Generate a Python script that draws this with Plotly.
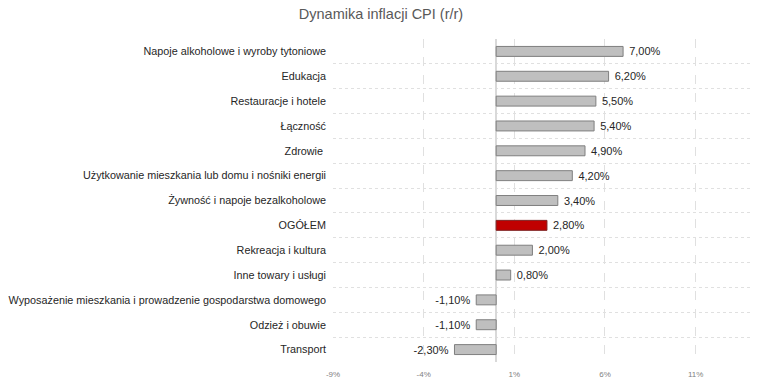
import plotly.graph_objects as go

categories = [
    "Napoje alkoholowe i wyroby tytoniowe",
    "Edukacja",
    "Restauracje i hotele",
    "Łączność",
    "Zdrowie ",
    "Użytkowanie mieszkania lub domu i nośniki energii",
    "Żywność i napoje bezalkoholowe",
    "OGÓŁEM",
    "Rekreacja i kultura",
    "Inne towary i usługi",
    "Wyposażenie mieszkania i prowadzenie gospodarstwa domowego",
    "Odzież i obuwie",
    "Transport",
]
values = [7.0, 6.2, 5.5, 5.4, 4.9, 4.2, 3.4, 2.8, 2.0, 0.8, -1.1, -1.1, -2.3]
highlight = "OGÓŁEM"
x_ticks = [-9, -4, 1, 6, 11]

fill = ["#C00000" if c == highlight else "#BFBFBF" for c in categories]
line = ["#7F1F1F" if c == highlight else "#7F7F7F" for c in categories]
NB = "\u00a0"

fig = go.Figure(go.Bar(
    x=values, y=categories, orientation="h",
    marker=dict(color=fill, line=dict(color=line, width=1)),
    width=0.4,
    text=[NB + f"{v:.2f}".replace(".", ",") + "%" + NB for v in values],
    textposition="outside",
    constraintext="none",
    textfont=dict(family="Liberation Sans, Arial", size=11, color="#262626"),
    cliponaxis=False,
))

fig.update_layout(
    width=762, height=386,
    margin=dict(l=333, r=12, t=39, b=24),
    paper_bgcolor="white", plot_bgcolor="white",
    title=dict(text="Dynamika inflacji CPI (r/r)", x=0.5, xref="container", xanchor="center",
               y=1 - 14 / 386, yref="container", yanchor="middle",
               font=dict(family="Liberation Sans, Arial", size=14.5, color="#595959")),
    font=dict(family="Liberation Sans, Arial", size=11, color="#404040"),
    showlegend=False,
    separators=", ",
)
fig.update_xaxes(
    range=[-9, 14], tickvals=x_ticks, ticktext=[f"{t}%" for t in x_ticks],
    showgrid=True, gridcolor="#E0E0E0", griddash="dash", gridwidth=1,
    zeroline=True, zerolinecolor="#D9D9D9", zerolinewidth=1.5,
    tickfont=dict(size=8, color="#7F7F7F"), showline=False, ticks="",
    ticklabelstandoff=6, automargin=False,
)
fig.update_yaxes(
    categoryorder="array", categoryarray=categories, autorange="reversed",
    tickson="boundaries", showgrid=True, gridcolor="#E0E0E0", griddash="dot",
    ticks="", ticklen=0, showline=False, automargin=False,
    ticklabelstandoff=6,
    tickfont=dict(size=10.8, color="#262626"),
)

fig.write_html("out.html", config={"displayModeBar": False},
               post_script="document.body.style.margin='0';document.body.style.padding='0';")
